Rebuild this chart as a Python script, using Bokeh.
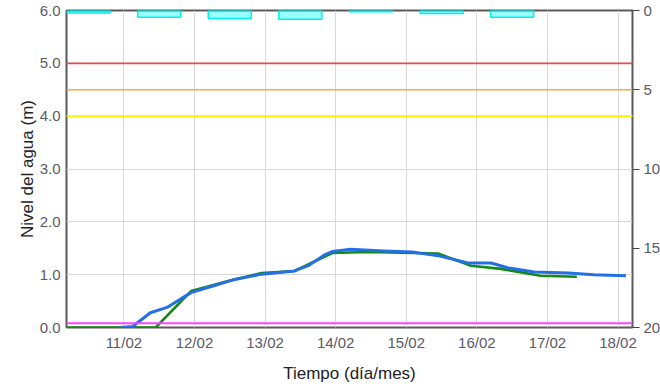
import pandas as pd
from bokeh.plotting import figure
from bokeh.models import (Range1d, LinearAxis, FixedTicker, DatetimeTickFormatter,
                          NumeralTickFormatter, Span)
from bokeh.embed import file_html
from bokeh.resources import INLINE

# ---- data ----
blue_t = ["2024-02-10 23:00", "2024-02-11 03:00", "2024-02-11 09:00", "2024-02-11 14:40",
          "2024-02-11 22:50", "2024-02-12 06:00", "2024-02-12 13:40", "2024-02-12 22:50",
          "2024-02-13 10:00", "2024-02-13 14:40", "2024-02-13 20:25", "2024-02-13 23:00",
          "2024-02-14 05:00", "2024-02-14 16:20", "2024-02-15 02:00", "2024-02-15 10:50",
          "2024-02-15 21:00", "2024-02-16 04:50", "2024-02-16 10:30", "2024-02-16 19:30",
          "2024-02-17 07:00", "2024-02-17 15:50", "2024-02-18 02:40"]
blue_v = [0.00, 0.02, 0.28, 0.38, 0.66, 0.78, 0.91, 1.01, 1.07, 1.17, 1.38, 1.44,
          1.48, 1.45, 1.43, 1.36, 1.22, 1.22, 1.13, 1.05, 1.03, 1.00, 0.98]

green_t = ["2024-02-10 00:00", "2024-02-11 10:50", "2024-02-11 22:50", "2024-02-12 11:30",
           "2024-02-12 22:50", "2024-02-13 10:00", "2024-02-13 22:50", "2024-02-14 11:00",
           "2024-02-15 02:00", "2024-02-15 10:50", "2024-02-15 22:00", "2024-02-16 08:10",
           "2024-02-16 21:40", "2024-02-17 10:00"]
green_v = [0.00, 0.00, 0.69, 0.88, 1.03, 1.07, 1.41, 1.43, 1.41, 1.40, 1.17, 1.11,
           0.98, 0.96]

rain_t = ["2024-02-10 12:00", "2024-02-11 12:00", "2024-02-12 12:00", "2024-02-13 12:00",
          "2024-02-14 12:00", "2024-02-15 12:00", "2024-02-16 12:00"]
rain_v = [0.15, 0.42, 0.5, 0.55, 0.08, 0.19, 0.42]

thresholds = [5.0, 4.5, 4.0, 0.08]
threshold_colors = ["#e8474b", "#ffaa33", "#f5f500", "#ff44ff"]

day_ticks = ["2024-02-11", "2024-02-12", "2024-02-13", "2024-02-14",
             "2024-02-15", "2024-02-16", "2024-02-17", "2024-02-18"]
level_ticks = [0, 1, 2, 3, 4, 5, 6]
rain_ticks = [0, 5, 10, 15, 20]

to_dt = lambda s: pd.Timestamp(s)
ms = lambda s: pd.Timestamp(s).value / 1e6

p = figure(frame_width=566, frame_height=317, x_axis_type="datetime",
           output_backend="svg", toolbar_location=None,
           min_border_left=66, min_border_top=10, min_border_right=24, min_border_bottom=56,
           x_range=Range1d(pd.Timestamp("2024-02-10 04:30"), pd.Timestamp("2024-02-18 04:55")),
           y_range=Range1d(0, 6))
p.extra_y_ranges = {"rain": Range1d(20, 0)}

p.background_fill_color = "white"
p.border_fill_color = "white"
p.outline_line_color = "#5a5a5a"
p.outline_line_width = 2

# grid
p.xgrid.ticker = FixedTicker(ticks=[ms(d) for d in day_ticks])
p.ygrid.ticker = FixedTicker(ticks=level_ticks)
p.xgrid.grid_line_color = "#d9d9d9"
p.ygrid.grid_line_color = "#d9d9d9"

# bottom axis
xa = p.xaxis[0]
xa.ticker = FixedTicker(ticks=[ms(d) for d in day_ticks])
xa.formatter = DatetimeTickFormatter(days="%d/%m", months="%d/%m", hours="%d/%m")
xa.axis_label = "Tiempo (día/mes)"
xa.axis_label_text_font = "Liberation Sans"
xa.axis_label_text_font_style = "normal"
xa.axis_label_text_font_size = "17px"
xa.axis_label_text_color = "#222222"
xa.axis_label_standoff = 10
xa.major_label_text_font = "Liberation Sans"
xa.major_label_text_font_size = "15px"
xa.major_label_text_color = "#5a5a66"
xa.major_label_standoff = 6
xa.major_tick_line_color = None
xa.major_tick_out = 0
xa.major_tick_in = 0
xa.minor_tick_line_color = None
xa.axis_line_color = None

# left axis
ya = p.yaxis[0]
ya.ticker = FixedTicker(ticks=level_ticks)
ya.formatter = NumeralTickFormatter(format="0.0")
ya.axis_label = "Nivel del agua (m)"
ya.axis_label_text_font = "Liberation Sans"
ya.axis_label_text_font_style = "normal"
ya.axis_label_text_font_size = "17px"
ya.axis_label_text_color = "#222222"
ya.axis_label_standoff = 0
ya.major_label_text_font = "Liberation Sans"
ya.major_label_text_font_size = "15px"
ya.major_label_text_color = "#5a5a66"
ya.major_label_standoff = 6
ya.major_tick_line_color = None
ya.major_tick_out = 0
ya.major_tick_in = 0
ya.minor_tick_line_color = None
ya.axis_line_color = None

# right axis (rain, inverted)
ra = LinearAxis(y_range_name="rain", ticker=FixedTicker(ticks=rain_ticks))
ra.major_label_text_font = "Liberation Sans"
ra.major_label_text_font_size = "15px"
ra.major_label_text_color = "#5a5a66"
ra.major_label_standoff = 4
ra.major_tick_out = 7
ra.major_tick_in = 0
ra.major_tick_line_color = "#444444"
ra.minor_tick_line_color = None
ra.axis_line_color = None
p.add_layout(ra, "right")

# rain bars
p.vbar(x=[to_dt(t) for t in rain_t], width=0.61 * 86400000, top=0, bottom=rain_v,
       y_range_name="rain", fill_color="#00ffff", fill_alpha=0.4,
       line_color="#00f0f0", line_width=1.5)

# thresholds
for v, c in zip(thresholds, threshold_colors):
    p.add_layout(Span(location=v, dimension="width", line_color=c,
                      line_width=2 if v < 1 else 1.6))

# series
p.line([to_dt(t) for t in green_t], green_v, line_color="#138a13", line_width=2.6)
p.line([to_dt(t) for t in blue_t], blue_v, line_color="#2370e2", line_width=3,
       line_join="round")

open("out.html", "w").write(file_html(p, INLINE))
